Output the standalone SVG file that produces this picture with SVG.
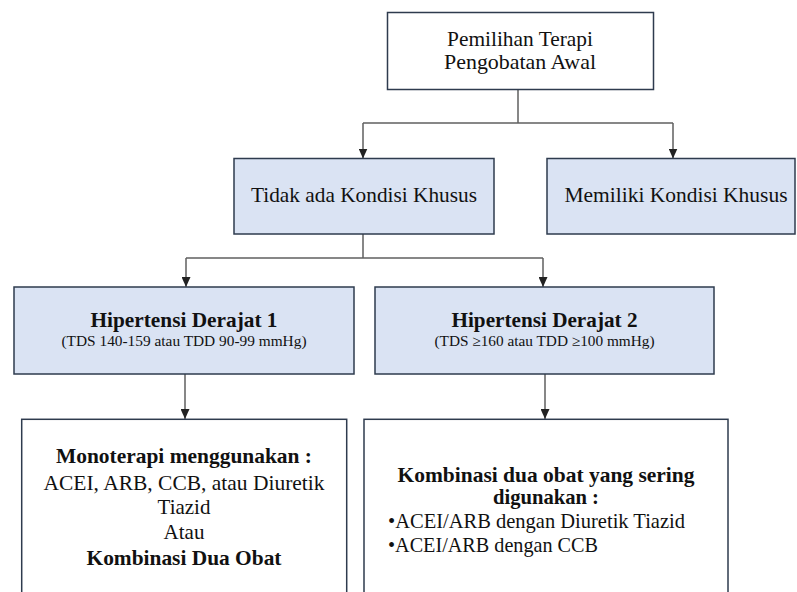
<svg xmlns="http://www.w3.org/2000/svg" width="797" height="592" viewBox="0 0 797 592">
<style>
.box{fill:#dae3f3;stroke:#2e3b4e;stroke-width:1.5}
.wbox{fill:#ffffff;stroke:#2e3b4e;stroke-width:1.5}
.t{font-family:'Liberation Serif','Times New Roman',Times,'DejaVu Serif','Noto Serif',serif;font-size:21px;fill:#111;text-anchor:middle}
.l{text-anchor:start}
.b{font-weight:bold}
.s{font-size:15px}
.c{fill:none;stroke:#5f5f5f;stroke-width:1.5}
.a{marker-end:url(#ah)}
</style>
<defs>
<marker id="ah" markerUnits="userSpaceOnUse" markerWidth="10" markerHeight="9" refX="10" refY="4.5" orient="auto" viewBox="0 0 10 9"><path d="M0,0 L10,4.5 L0,9 z" fill="#222"/></marker>
</defs>
<rect width="797" height="592" fill="#ffffff"/>
<g id="connectors">
<path class="c" d="M518,89.5 V123"/>
<path class="c" d="M363,123 H673"/>
<path class="c a" d="M363,123 V158.5"/>
<path class="c a" d="M673,123 V158.5"/>
<path class="c" d="M363,234 V258"/>
<path class="c" d="M186,258 H543"/>
<path class="c a" d="M186,258 V287"/>
<path class="c a" d="M543,258 V287"/>
<path class="c a" d="M185,374 V419"/>
<path class="c a" d="M545,374 V419"/>
</g>
<g id="n-start">
<rect class="wbox" x="387.5" y="12.5" width="266" height="77"/>
<text class="t" x="520" y="46" textLength="146" lengthAdjust="spacingAndGlyphs">Pemilihan Terapi</text>
<text class="t" x="520" y="68.5" textLength="152" lengthAdjust="spacingAndGlyphs">Pengobatan Awal</text>
</g>
<g id="n-tidak">
<rect class="box" x="234" y="158.5" width="260" height="75.5"/>
<text class="t" x="364" y="202" textLength="226" lengthAdjust="spacingAndGlyphs">Tidak ada Kondisi Khusus</text>
</g>
<g id="n-memiliki">
<rect class="box" x="547" y="158.5" width="248" height="75.5"/>
<text class="t" x="676" y="202" textLength="223" lengthAdjust="spacingAndGlyphs">Memiliki Kondisi Khusus</text>
</g>
<g id="n-h1">
<rect class="box" x="14" y="287" width="340" height="87"/>
<text class="t b" x="184" y="327" textLength="187" lengthAdjust="spacingAndGlyphs">Hipertensi Derajat 1</text>
<text class="t s" x="184" y="346" textLength="245" lengthAdjust="spacingAndGlyphs">(TDS 140-159 atau TDD 90-99 mmHg)</text>
</g>
<g id="n-h2">
<rect class="box" x="375" y="287" width="339" height="87"/>
<text class="t b" x="544.5" y="327" textLength="186" lengthAdjust="spacingAndGlyphs">Hipertensi Derajat 2</text>
<text class="t s" x="544.5" y="346" textLength="220" lengthAdjust="spacingAndGlyphs">(TDS ≥160 atau TDD ≥100 mmHg)</text>
</g>
<g id="n-mono">
<rect class="wbox" x="21.7" y="419.3" width="325" height="200"/>
<text class="t b" x="184" y="463" textLength="256" lengthAdjust="spacingAndGlyphs">Monoterapi menggunakan :</text>
<text class="t" x="184" y="490" textLength="281" lengthAdjust="spacingAndGlyphs">ACEI, ARB, CCB, atau Diuretik</text>
<text class="t" x="184" y="514">Tiazid</text>
<text class="t" x="184" y="539">Atau</text>
<text class="t b" x="184" y="565" textLength="195" lengthAdjust="spacingAndGlyphs">Kombinasi Dua Obat</text>
</g>
<g id="n-kombinasi">
<rect class="wbox" x="364" y="419.3" width="364" height="200"/>
<text class="t b" x="546" y="481.5" textLength="297" lengthAdjust="spacingAndGlyphs">Kombinasi dua obat yang sering</text>
<text class="t b" x="546" y="504" textLength="106" lengthAdjust="spacingAndGlyphs">digunakan :</text>
<text class="t l" x="388" y="528" textLength="297" lengthAdjust="spacingAndGlyphs">•ACEI/ARB dengan Diuretik Tiazid</text>
<text class="t l" x="388" y="552" textLength="210" lengthAdjust="spacingAndGlyphs">•ACEI/ARB dengan CCB</text>
</g>
</svg>
